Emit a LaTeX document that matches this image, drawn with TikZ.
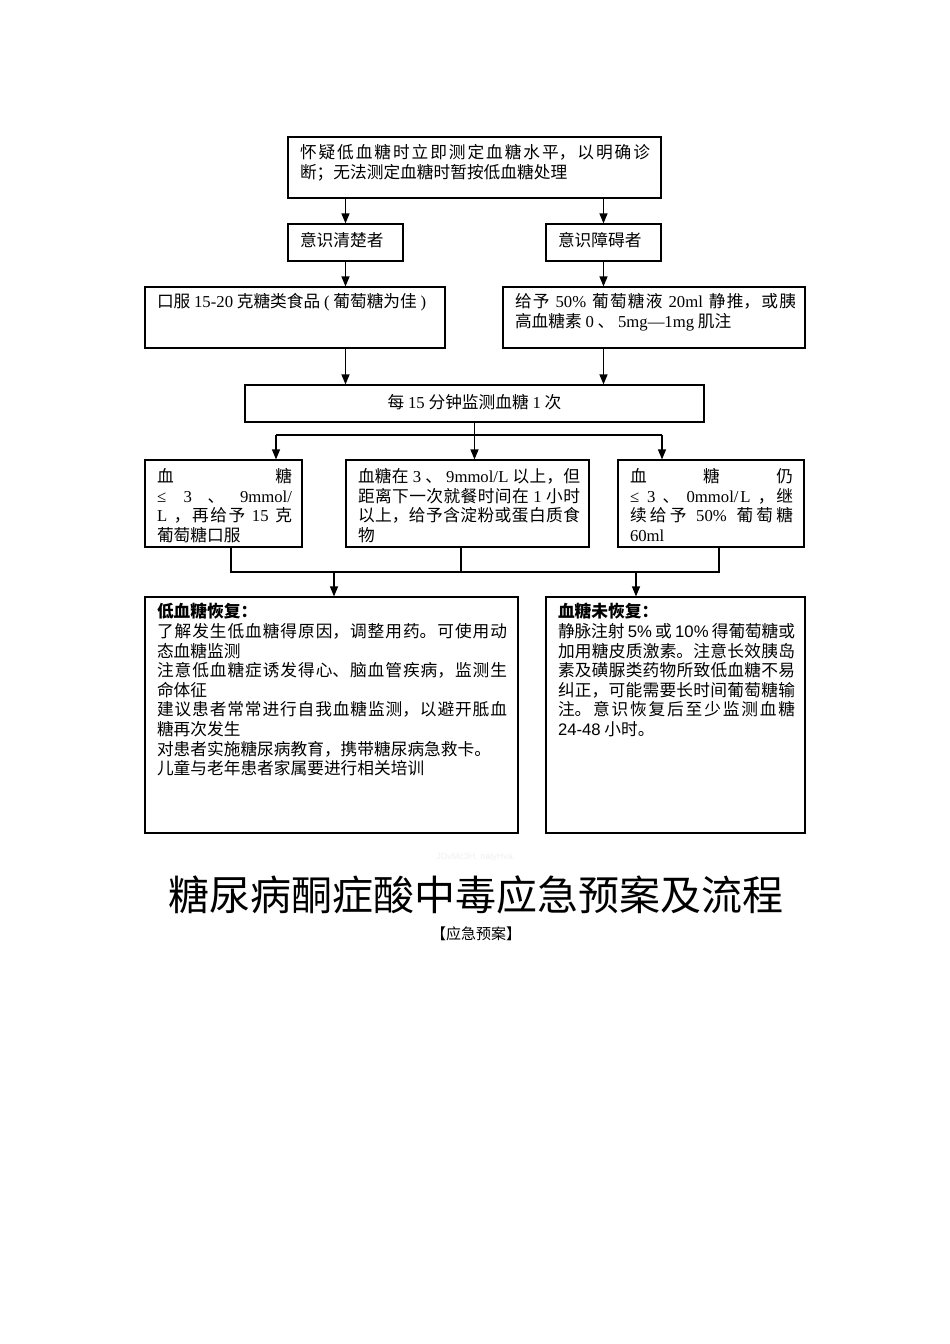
\documentclass[tikz,border=0pt]{standalone}
\usepackage{fontspec}
\setmainfont{Noto Sans CJK SC}
\newfontfamily\lat{Liberation Serif}
\newfontfamily\lats{Liberation Sans}
\usetikzlibrary{arrows.meta,calc}
\XeTeXlinebreaklocale "zh"
\XeTeXlinebreakskip=0pt plus 1pt minus 0.3pt
\setlength{\parindent}{0pt}
\newcommand\EN[1]{{\lat #1}}
\newcommand\ENS[1]{{\lats #1}}
\tikzset{
  box/.style={draw, line width=1.2pt, rectangle, inner sep=0pt},
  txt/.style={anchor=north west, inner sep=0pt, outer sep=0pt, align=justify, text width=#1,
    font=\fontsize{16.7pt}{19.6pt}\selectfont},
  lbl/.style={inner sep=0pt, outer sep=0pt, font=\fontsize{16.7pt}{19.6pt}\selectfont},
  arr/.style={line width=1.2pt, -{Triangle[length=10pt,width=8pt]}},
  conn/.style={line width=1.2pt}
}
\begin{document}
\begin{tikzpicture}[x=1pt,y=-1pt]
\useasboundingbox (0,0) rectangle (950,1344);
\fill[white] (0,0) rectangle (950,1344);
% boxes
\node[box, minimum width=373pt, minimum height=61pt] (top) at (474.5,167.5) {};
\node[box, minimum width=115pt, minimum height=37pt] (clear) at (345.5,242.5) {};
\node[box, minimum width=115pt, minimum height=37pt] (impaired) at (603.5,242.5) {};
\node[box, minimum width=300pt, minimum height=61pt] (oral) at (295,317.5) {};
\node[box, minimum width=302pt, minimum height=61pt] (iv) at (654,317.5) {};
\node[box, minimum width=459pt, minimum height=37pt] (monitor) at (474.5,403.5) {};
\node[box, minimum width=157pt, minimum height=87pt] (lowA) at (223.5,503.5) {};
\node[box, minimum width=243pt, minimum height=87pt] (midA) at (467.5,503.5) {};
\node[box, minimum width=186pt, minimum height=87pt] (highA) at (711,503.5) {};
\node[box, minimum width=373pt, minimum height=236pt] (recov) at (331.5,715) {};
\node[box, minimum width=259pt, minimum height=236pt] (norecov) at (675.5,715) {};
% texts
\node[txt=350pt] (ttop) at (300,144.5) {怀疑低血糖时立即测定血糖水平，以明确诊\linebreak 断；无法测定血糖时暂按低血糖处理};
\node[lbl, anchor=west] (tclear) at (300,240.5) {意识清楚者};
\node[lbl, anchor=west] (timp) at (558,240.5) {意识障碍者};
\node[lbl, anchor=west] (toral) at (157,302.5) {口服 \EN{15-20} 克糖类食品 \EN{(} 葡萄糖为佳 \EN{)}};
\node[txt=281pt] (tiv) at (515,293.5) {给予 \EN{50\%} 葡萄糖液 \EN{20ml} 静推，或胰\linebreak 高血糖素 \EN{0} 、 \EN{5mg—1mg} 肌注};
\node[lbl] (tmon) at (474.5,402.5) {每 \EN{15} 分钟监测血糖 \EN{1} 次};
\node[txt=135pt] (tlow) at (157,468.5) {血\hfill 糖\linebreak \EN{≤ 3} 、 \EN{9mmol/}\linebreak \EN{L} ，再给予 \EN{15} 克\linebreak 葡萄糖口服};
\node[txt=222pt] (tmid) at (358,468.5) {血糖在 \EN{3} 、 \EN{9mmol/L} 以上，但\linebreak 距离下一次就餐时间在 \EN{1} 小时\linebreak 以上，给予含淀粉或蛋白质食\linebreak 物};
\node[txt=163pt] (thigh) at (630,468.5) {血\hfill 糖\hfill 仍\linebreak \EN{≤ 3} 、 \EN{0mmol/L} ，继\linebreak 续给予 \EN{50\%} 葡萄糖\linebreak \EN{60ml}};
\node[txt=350pt] (trecov) at (157,603.5) {{\bfseries 低血糖恢复：}\\ 了解发生低血糖得原因，调整用药。可使用动\linebreak 态血糖监测\\ 注意低血糖症诱发得心、脑血管疾病，监测生\linebreak 命体征\\ 建议患者常常进行自我血糖监测，以避开胝血\linebreak 糖再次发生\\ 对患者实施糖尿病教育，携带糖尿病急救卡。\\ 儿童与老年患者家属要进行相关培训};
\node[txt=237pt] (tnorecov) at (558,603.5) {{\bfseries 血糖未恢复：}\\ 静脉注射 \ENS{5\%} 或 \ENS{10\%} 得葡萄糖或\linebreak 加用糖皮质激素。注意长效胰岛\linebreak 素及磺脲类药物所致低血糖不易\linebreak 纠正，可能需要长时间葡萄糖输\linebreak 注。意识恢复后至少监测血糖\linebreak \ENS{24-48} 小时。};
% connectors
\draw[arr] (top.south -| clear.north) -- (clear.north);
\draw[arr] (top.south -| impaired.north) -- (impaired.north);
\draw[arr] (clear.south) -- (clear.south |- oral.north);
\draw[arr] (impaired.south) -- (impaired.south |- iv.north);
\draw[arr] (oral.south -| clear.south) -- (monitor.north -| clear.south);
\draw[arr] (iv.south -| impaired.south) -- (monitor.north -| impaired.south);
\coordinate (bl) at (276,435);
\coordinate (br) at (662,435);
\draw[conn] (monitor.south) -- (monitor.south |- bl);
\draw[conn] (bl) -- (br);
\draw[arr] (bl) -- (bl |- lowA.north);
\draw[arr] (monitor.south |- bl) -- (monitor.south |- midA.north);
\draw[arr] (br) -- (br |- highA.north);
\coordinate (m1) at (231,572);
\coordinate (m2) at (461,572);
\coordinate (m3) at (719,572);
\draw[conn] (m1 |- lowA.south) -- (m1) -- (m3) -- (m3 |- highA.south);
\draw[conn] (m2 |- midA.south) -- (m2);
\coordinate (a1) at (334,572);
\coordinate (a2) at (636,572);
\draw[arr] (a1) -- (a1 |- recov.north);
\draw[arr] (a2) -- (a2 |- norecov.north);
% title
\node[inner sep=0pt, text=black!6, font=\lats\fontsize{9pt}{10pt}\selectfont] (wm) at (476,857) {JDvMc3H. nalyHva.};
\node[inner sep=0pt, font=\fontsize{41pt}{45pt}\selectfont] (title) at (476,895) {糖尿病酮症酸中毒应急预案及流程};
\node[inner sep=0pt, font=\fontsize{15pt}{17pt}\selectfont] (sub) at (476,934) {【应急预案】};
\end{tikzpicture}
\end{document}
